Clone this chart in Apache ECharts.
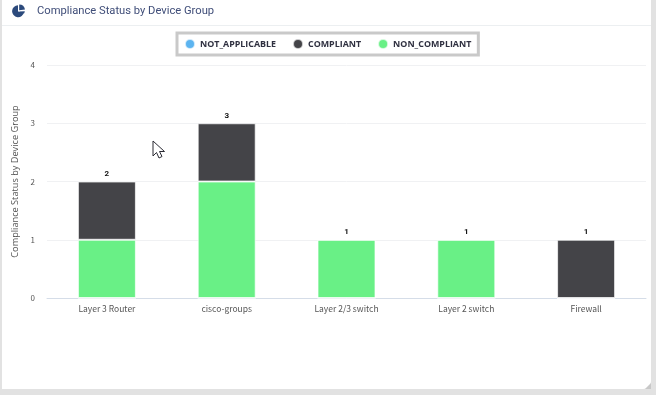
<!DOCTYPE html>
<html>
<head>
<meta charset="utf-8">
<style>
html,body{margin:0;padding:0;width:656px;height:395px;overflow:hidden;background:#e2e2e2}
#card{position:absolute;left:2px;top:0;width:649px;height:389px;background:#fff;border-radius:0 0 8px 0}
#chart{position:absolute;left:0;top:0;width:656px;height:395px}
#hr{position:absolute;left:2px;top:25px;width:649px;height:1px;background:#eceff1}
#grip{position:absolute;left:645px;top:383px;width:0;height:0;border-left:6px solid transparent;border-bottom:6px solid #c8c8c8}
svg{position:absolute}
</style>
</head>
<body>
<div id="card"></div>
<div id="hr"></div>
<div id="grip"></div>
<div id="chart"></div>
<svg style="left:12px;top:4px" width="14" height="14" viewBox="0 0 14 14"><path d="M6 1.2A6 6 0 1 0 12 8.2L6 7.4Z" fill="#2c4a7c"/><path d="M7.2 0.4A6 6 0 0 1 13 5.5L7.2 6.2Z" fill="#2c4a7c"/><path d="M7.4 7.4L12.8 7.2A6 6 0 0 1 12 9.4Z" fill="#2c4a7c"/></svg>
<svg style="left:151px;top:139px" width="16" height="22" viewBox="0 0 16 22"><path d="M2 2V17L5.5 13.5L8 19L11 17.5L8.5 12.5H13.5Z" fill="#fff" stroke="#2a2a33" stroke-width="1"/></svg>
<script src="https://cdn.jsdelivr.net/npm/echarts@6/dist/echarts.min.js"></script>
<script>
const titleText = 'Compliance Status by Device Group';
const categories = ['Layer 3 Router','cisco-groups','Layer 2/3 switch','Layer 2 switch','Firewall'];
const notApplicable = [0,0,0,0,0];
const nonCompliant = [1,2,1,1,0];
const compliant = [1,1,0,0,1];
const totals = [2,3,1,1,1];
const axisFont = '"Noto Sans CJK SC","Noto Sans",sans-serif';
const stacked = (name, data, color) => ({
  name, type:'bar', stack:'total', data, barWidth:58,
  itemStyle:{color, borderColor:'rgba(255,255,255,0.7)', borderWidth:1, opacity:1},
  emphasis:{disabled:true}
});
const chart = echarts.init(document.getElementById('chart'));
chart.setOption({
  animation:false,
  title:{text:titleText,left:37,top:6,padding:0,textStyle:{fontFamily:'Roboto',fontSize:11.2,fontWeight:'normal',color:'#3f4d78'}},
  legend:{
    top:33,left:177,data:['NOT_APPLICABLE','COMPLIANT','NON_COMPLIANT'],
    icon:'circle',itemWidth:10,itemHeight:10,itemGap:16,
    borderColor:'#c9c9c9',borderWidth:3,padding:[5,7,5,7],
    textStyle:{fontFamily:'"Open Sans"',fontSize:8.9,fontWeight:'bold',color:'#2f3040'}
  },
  grid:{left:47,right:10,top:65,bottom:97},
  xAxis:{
    type:'category',data:categories,
    axisLine:{lineStyle:{color:'#d5dde8',width:1}},axisTick:{show:false},
    axisLabel:{fontFamily:axisFont,fontSize:8.5,color:'#555',margin:7,interval:0}
  },
  yAxis:{
    type:'value',min:0,max:4,interval:1,
    name:'Compliance Status by Device Group',nameLocation:'middle',nameGap:19,
    nameTextStyle:{fontFamily:'"Open Sans"',fontSize:9.2,color:'#555'},
    axisLine:{show:false},axisTick:{show:false},
    axisLabel:{fontFamily:axisFont,fontSize:8,color:'#555',margin:12},
    splitLine:{lineStyle:{color:'#f0f1f3',width:1}}
  },
  series:[
    stacked('NOT_APPLICABLE',notApplicable,'#5cb4f0'),
    stacked('NON_COMPLIANT',nonCompliant,'#69f086'),
    stacked('COMPLIANT',compliant,'#444448'),
    {name:'total',type:'line',data:totals,symbol:'circle',symbolSize:1,showSymbol:true,lineStyle:{width:0,color:'transparent'},itemStyle:{color:'transparent'},
     label:{show:true,position:'top',distance:3,fontFamily:'Roboto',fontSize:8,fontWeight:'bold',color:'#111'},emphasis:{disabled:true},silent:true}
  ]
});
</script>
</body>
</html>
